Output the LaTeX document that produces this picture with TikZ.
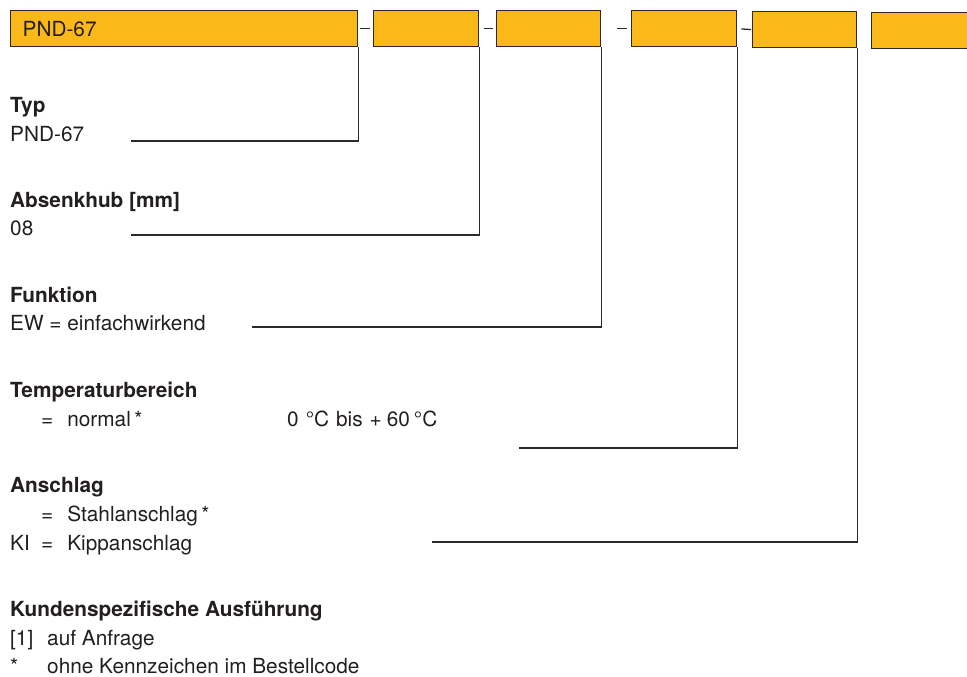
\documentclass[tikz,border=0pt]{standalone}
\usepackage{fontspec}
\setmainfont{TeX Gyre Heros}
\usepackage{xcolor}
\usepackage{tikz}
\usetikzlibrary{positioning}
\definecolor{codeorange}{HTML}{FBB819}
\definecolor{codeline}{HTML}{2A2A2A}
\definecolor{codetext}{HTML}{231F20}
\tikzset{codebox/.style={draw=codeline,fill=codeorange,line width=1.3pt,anchor=north west,minimum height=36pt,inner sep=0pt}}
\tikzset{leader/.style={codeline,line width=1.3pt}}
\newcommand{\eqgap}{=\hspace{14pt}}

\begin{document}
\begin{tikzpicture}[x=1pt,y=-1pt,
    lbl/.style={anchor=base west,inner sep=0pt,text=codetext,font=\fontsize{20.8}{24}\selectfont},
    head/.style={lbl,font=\fontsize{20.8}{24}\selectfont\bfseries}]
  \useasboundingbox (0,0) rectangle (967,677);

  \node[codebox,minimum width=347pt,text width=335pt,align=left] (b1) at (10,10) {\hspace*{6pt}\textcolor{codetext}{\fontsize{20.8}{24}\selectfont PND-67}};
  \node[codebox,minimum width=105pt] (b2) at (373,10) {};
  \node[codebox,minimum width=104pt] (b3) at (496,10) {};
  \node[codebox,minimum width=105pt] (b4) at (631,10) {};
  \node[codebox,minimum width=104pt] (b5) at (752,11) {};
  \node[codebox,minimum width=120pt] (b6) at (871,12) {};

  \draw[leader,shorten <=2pt,shorten >=3pt] (b1.east) -- (b2.west);
  \draw[leader,shorten <=5pt,shorten >=3pt] (b2.east) -- (b3.west);
  \draw[leader,shorten <=16pt,shorten >=4pt] (b3.east) -- (b4.west);
  \draw[leader,shorten <=4pt,shorten >=1pt] (b4.east) -- (b5.west);

  \node[head] (typ) at (10,112) {Typ};
  \node[lbl] (typv) at (10,141) {PND-67};
  \node[head] (hub) at (10,207) {Absenkhub [mm]};
  \node[lbl] (hubv) at (10,235.5) {08};
  \node[head] (fkt) at (10,302) {Funktion};
  \node[lbl] (fktv) at (10,330) {EW = einfachwirkend};
  \node[head] (temp) at (10,397) {Temperaturbereich};
  \node[lbl] (tempv) at (41,426) {\eqgap normal\,*};
  \node[lbl] (tempr) at (287,426) {0\hspace{7pt}°C\hspace{7pt}bis\hspace{7pt}+\hspace{5pt}60\hspace{4pt}°C};
  \node[head] (ans) at (10,492) {Anschlag};
  \node[lbl] (ansa) at (41,521) {\eqgap Stahlanschlag\,*};
  \node[lbl] (ansk) at (10,550) {KI};
  \node[lbl] (anskv) at (41,550) {\eqgap Kippanschlag};
  \node[head] (kund) at (10,616) {Kundenspezifische Ausführung};
  \node[lbl] (kund1) at (10,645) {[1]};
  \node[lbl] (kund1v) at (47,645) {auf Anfrage};
  \node[lbl] (kund2) at (10,673) {*};
  \node[lbl] (kund2v) at (47,673) {ohne Kennzeichen im Bestellcode};

  \coordinate (e1) at (131,141);
  \coordinate (e2) at (131,235);
  \coordinate (e3) at (252,327);
  \coordinate (e4) at (519,448);
  \coordinate (e5) at (432,542);

  \draw[leader] (b1.south east) |- (e1);
  \draw[leader] (b2.south east) |- (e2);
  \draw[leader] (b3.south east) |- (e3);
  \draw[leader] (b4.south east) |- (e4);
  \draw[leader] (b5.south east) |- (e5);
\end{tikzpicture}
\end{document}
